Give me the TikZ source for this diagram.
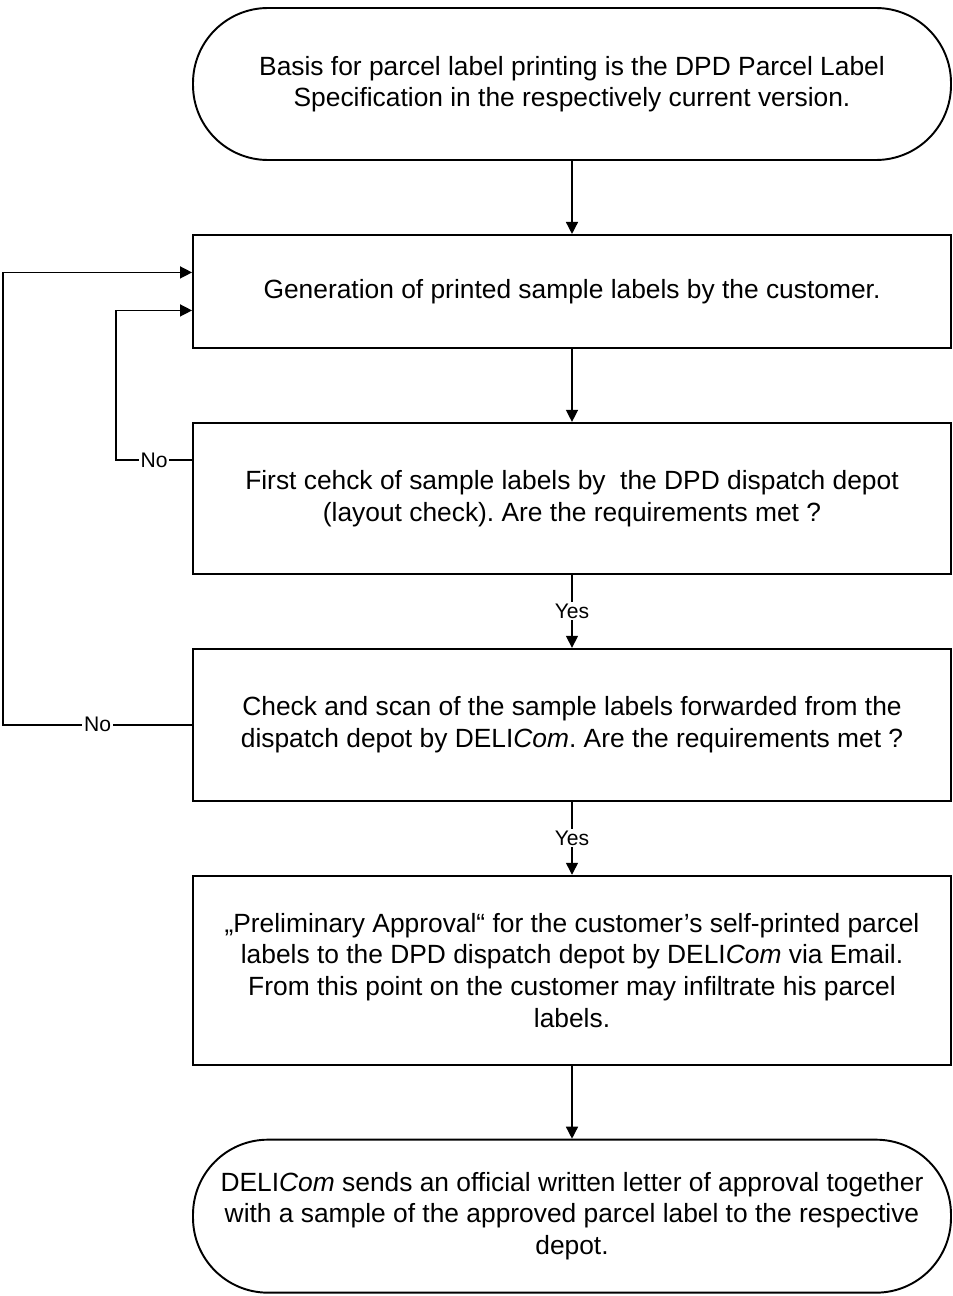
\documentclass[tikz,border=0pt]{standalone}
\usepackage{fontspec}
\setmainfont{Liberation Sans}
\usetikzlibrary{arrows.meta, positioning}
\frenchspacing

\begin{document}
\begin{tikzpicture}[
  node distance=1.46cm,
  box/.style={
    rectangle,
    draw,
    line width=1.1pt,
    align=center,
    inner sep=0pt,
    minimum width=15.16cm,
    font=\fontsize{15}{18}\selectfont
  },
  terminal/.style={
    box,
    rounded corners=1.5cm
  },
  arrow/.style={-{Triangle[length=0.24cm, width=0.24cm]}, line width=0.8pt},
  answer/.style={fill=white, inner sep=1pt, font=\fontsize{12}{14}\selectfont}
]
\useasboundingbox (0,0) rectangle (19.06,-25.92);

% Nodes (stacked top-down)
\node[terminal, minimum height=3.04cm] (spec) at (11.44,-1.68)
  {Basis for parcel label printing is the DPD Parcel Label\\ Specification in the respectively current version.};
\node[box, minimum height=2.26cm, below=of spec] (generate)
  {Generation of printed sample labels by the customer.};
\node[box, minimum height=3.02cm, below=of generate] (depotcheck)
  {First cehck of sample labels by\ \ the DPD dispatch depot\\ (layout check). Are the requirements met ?};
\node[box, minimum height=3.04cm, below=of depotcheck] (scancheck)
  {Check and scan of the sample labels forwarded from the\\ dispatch depot by DELI\textit{Com}. Are the requirements met ?};
\node[box, minimum height=3.78cm, below=of scancheck] (approval)
  {„Preliminary Approval“ for the customer's self-printed parcel\\ labels to the DPD dispatch depot by DELI\textit{Com} via Email.\\ From this point on the customer may infiltrate his parcel\\ labels.};
\node[terminal, minimum height=3.06cm, below=of approval] (letter)
  {DELI\textit{Com} sends an official written letter of approval together\\ with a sample of the approved parcel label to the respective\\ depot.};

% Arrows
\draw[arrow] (spec) -- (generate);
\draw[arrow] (generate) -- (depotcheck);
\draw[arrow] (depotcheck) -- node[answer] {Yes} (scancheck);
\draw[arrow] (scancheck) -- node[answer] {Yes} (approval);
\draw[arrow] (approval) -- (letter);

% Feedback loops
\draw[arrow] ([yshift=0.77cm]depotcheck.west) -- node[answer] {No} ++(-1.52,0)
  |- ([yshift=-0.38cm]generate.west);
\draw[arrow] (scancheck.west) -- node[answer] {No} ++(-3.78,0)
  |- ([yshift=0.38cm]generate.west);

\end{tikzpicture}
\end{document}
